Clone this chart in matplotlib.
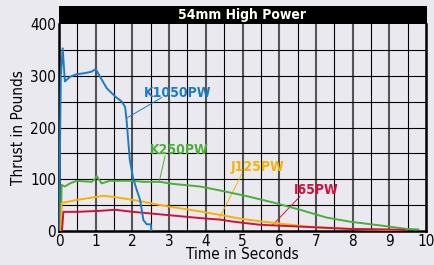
import matplotlib
matplotlib.use('Agg')
import matplotlib.pyplot as plt
from matplotlib.patches import Rectangle

plt.rcParams['font.family'] = ['DejaVu Sans']
plt.rcParams['font.stretch'] = 'condensed'

# thrust curves (time s, thrust lb)
k1050_t = [0.0, 0.05, 0.1, 0.16, 0.3, 0.48, 0.7, 0.89, 1.0, 1.12, 1.3, 1.53, 1.71, 1.8, 1.84, 1.93, 2.02, 2.12, 2.21, 2.3, 2.39, 2.5, 2.52]
k1050_f = [0, 300, 353, 289, 298, 303, 305, 308, 313, 298, 276, 260, 250, 240, 215, 137, 102, 79, 60, 21, 13, 13, 0]

k250_t = [0.05, 0.07, 0.16, 0.3, 0.48, 0.89, 0.97, 1.03, 1.16, 1.39, 2.02, 2.3, 2.75, 3.11, 3.84, 4.2, 4.48, 5.2, 5.84, 6.57, 7.29, 7.93, 8.84, 9.47, 9.79]
k250_f = [0, 89, 86, 92, 97, 95, 100, 106, 92, 97, 97, 95, 95, 91, 86, 81, 77, 66, 55, 41, 26, 18, 10, 4, 3]

j125_t = [0.05, 0.07, 0.48, 1.21, 1.48, 2.02, 2.93, 3.84, 4.39, 5.02, 5.93, 6.84, 7.93, 8.93, 9.3]
j125_f = [0, 54, 60, 68, 66, 60, 48, 38, 31, 23, 15, 8, 4, 2, 0]

i65_t = [0.08, 0.12, 0.48, 1.12, 1.53, 2.02, 2.93, 3.84, 4.39, 4.75, 5.48, 6.11, 7.02, 7.93, 8.93, 9.4, 9.5]
i65_f = [0, 37, 37, 39, 41, 37, 31, 25, 22, 18, 12, 10, 7, 4, 3, 2, 0]

bg = '#ebe9f0'
fig = plt.figure(figsize=(4.34, 2.65), dpi=100, facecolor=bg)
ax = fig.add_axes([59/434, 34/265, 367/434, 207/265])
ax.set_facecolor(bg)
ax.set_xlim(0, 10)
ax.set_ylim(0, 400)

# grid
for x in [i * 0.5 for i in range(1, 20)]:
    if x == int(x):
        ax.axvline(x, color='#555555', lw=1.5, zorder=1)
    else:
        ax.axvline(x, color='black', lw=0.8, zorder=1)
for y in range(50, 400, 50):
    ax.axhline(y, color='black', lw=0.8, zorder=1)

ax.plot(k250_t, k250_f, color='#4cad38', lw=1.4, zorder=3)
ax.plot(j125_t, j125_f, color='#f5b400', lw=1.4, zorder=3)
ax.plot(i65_t, i65_f, color='#d2103c', lw=1.4, zorder=3)
ax.plot(k1050_t, k1050_f, color='#1b7cc0', lw=1.4, zorder=4)

# labels with leader lines
ax.text(3.24, 266, 'K1050PW', color='#1b7cc0', fontsize=10, fontweight='bold', ha='center', va='center')
ax.plot([2.8, 1.84], [258, 218], color='#1b7cc0', lw=0.7)
ax.text(3.27, 157, 'K250PW', color='#4cad38', fontsize=10, fontweight='bold', ha='center', va='center')
ax.plot([2.89, 2.73], [145, 95], color='#4cad38', lw=0.7)
ax.text(5.41, 124, 'J125PW', color='#f5b400', fontsize=10, fontweight='bold', ha='center', va='center')
ax.plot([4.98, 4.37], [110, 25], color='#f5b400', lw=0.7)
ax.text(7.0, 79, 'I65PW', color='#d2103c', fontsize=10, fontweight='bold', ha='center', va='center')
ax.plot([6.57, 5.8], [67, 10], color='#d2103c', lw=0.7)

for s in ['left', 'bottom', 'right']:
    ax.spines[s].set_linewidth(1.8)
ax.spines['top'].set_visible(False)

ax.set_xticks(range(0, 11))
ax.set_yticks(range(0, 401, 100))
ax.tick_params(length=0, labelsize=11, pad=2)
ax.set_xlabel('Time in Seconds', fontsize=11, labelpad=-1)
ax.set_ylabel('Thrust in Pounds', fontsize=11, labelpad=3)

# title bar
ax.add_patch(Rectangle((0, 1), 1.003, 18/207, transform=ax.transAxes, facecolor='black',
                       edgecolor='none', clip_on=False))
ax.text(0.5, 1 + 9/207, '54mm High Power', transform=ax.transAxes, color='white',
        fontsize=10, fontweight='bold', ha='center', va='center')

plt.savefig('out.png', dpi=100, facecolor=bg)
